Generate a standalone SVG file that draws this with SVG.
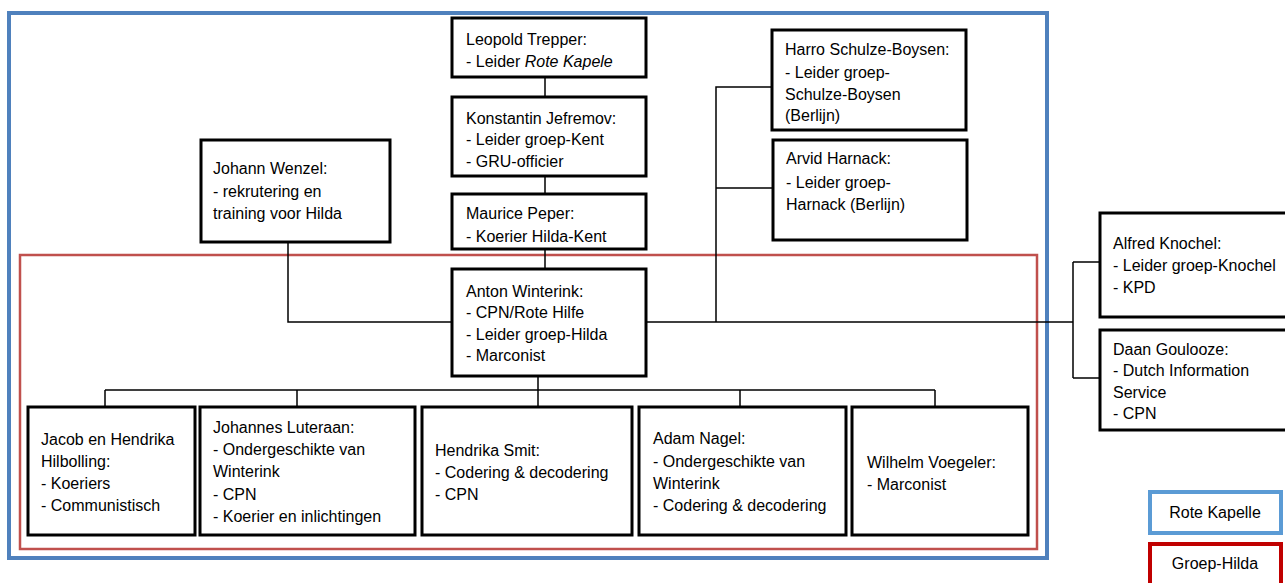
<svg xmlns="http://www.w3.org/2000/svg" width="1285" height="583" viewBox="0 0 1285 583">
<style>
text{font-family:"Liberation Sans",Arial,sans-serif;font-size:16px;fill:#000}
.box{fill:#fff;stroke:#000;stroke-width:3}
.con{fill:none;stroke:#000;stroke-width:1.5}
.legend{text-anchor:middle}
</style>
<rect width="1285" height="583" fill="#fff"/>
<g id="frames">
<rect x="9" y="13" width="1038" height="545" fill="none" stroke="#4F81BD" stroke-width="4"/>
<rect x="20" y="255" width="1017" height="294" fill="none" stroke="#C0504D" stroke-width="2.5"/>
</g>
<g id="connectors">
<path class="con" d="M545 77V97M545 176V194M545 249V269"/>
<path class="con" d="M288 242V322H452"/>
<path class="con" d="M646 322H1073M1073 262V378M1073 262H1100M1073 378H1100"/>
<path class="con" d="M716 322V87H772M716 188H773"/>
<path class="con" d="M538 376V390M105 390H935M105 390V407M297 390V407M538 390V407M740 390V407M935 390V407"/>
</g>
<g id="leopold">
<rect class="box" x="452" y="18" width="194" height="59"/>
<text x="466" y="45">Leopold Trepper:</text>
<text x="466" y="67">- Leider <tspan font-style="italic">Rote Kapele</tspan></text>
</g>
<g id="konstantin">
<rect class="box" x="452" y="97" width="194" height="79"/>
<text x="466" y="124">Konstantin Jefremov:</text>
<text x="466" y="145">- Leider groep-Kent</text>
<text x="466" y="167">- GRU-officier</text>
</g>
<g id="maurice">
<rect class="box" x="452" y="194" width="194" height="55"/>
<text x="466" y="219">Maurice Peper:</text>
<text x="466" y="242">- Koerier Hilda-Kent</text>
</g>
<g id="anton">
<rect class="box" x="452" y="269" width="194" height="107"/>
<text x="466" y="297">Anton Winterink:</text>
<text x="466" y="318">- CPN/Rote Hilfe</text>
<text x="466" y="340">- Leider groep-Hilda</text>
<text x="466" y="361">- Marconist</text>
</g>
<g id="johann">
<rect class="box" x="201" y="140" width="189" height="102"/>
<text x="213" y="174">Johann Wenzel:</text>
<text x="213" y="197">- rekrutering en</text>
<text x="213" y="219">training voor Hilda</text>
</g>
<g id="harro">
<rect class="box" x="772" y="30" width="194" height="100"/>
<text x="785" y="55">Harro Schulze-Boysen:</text>
<text x="785" y="78">- Leider groep-</text>
<text x="785" y="100">Schulze-Boysen</text>
<text x="785" y="121">(Berlijn)</text>
</g>
<g id="arvid">
<rect class="box" x="773" y="140" width="194" height="100"/>
<text x="786" y="164">Arvid Harnack:</text>
<text x="786" y="188">- Leider groep-</text>
<text x="786" y="210">Harnack (Berlijn)</text>
</g>
<g id="knochel">
<rect class="box" x="1100" y="213" width="195" height="104"/>
<text x="1113" y="249">Alfred Knochel:</text>
<text x="1113" y="271">- Leider groep-Knochel</text>
<text x="1113" y="293">- KPD</text>
</g>
<g id="goulooze">
<rect class="box" x="1100" y="330" width="195" height="100"/>
<text x="1113" y="355">Daan Goulooze:</text>
<text x="1113" y="376">- Dutch Information</text>
<text x="1113" y="398">Service</text>
<text x="1113" y="419">- CPN</text>
</g>
<g id="jacob">
<rect class="box" x="28" y="407" width="167" height="128"/>
<text x="41" y="445">Jacob en Hendrika</text>
<text x="41" y="467">Hilbolling:</text>
<text x="41" y="489">- Koeriers</text>
<text x="41" y="511">- Communistisch</text>
</g>
<g id="johannes">
<rect class="box" x="200" y="407" width="215" height="128"/>
<text x="213" y="433">Johannes Luteraan:</text>
<text x="213" y="455">- Ondergeschikte van</text>
<text x="213" y="477">Winterink</text>
<text x="213" y="500">- CPN</text>
<text x="213" y="522">- Koerier en inlichtingen</text>
</g>
<g id="hendrika">
<rect class="box" x="422" y="407" width="210" height="128"/>
<text x="435" y="456">Hendrika Smit:</text>
<text x="435" y="478">- Codering &amp; decodering</text>
<text x="435" y="500">- CPN</text>
</g>
<g id="adam">
<rect class="box" x="639" y="407" width="207" height="128"/>
<text x="653" y="444">Adam Nagel:</text>
<text x="653" y="467">- Ondergeschikte van</text>
<text x="653" y="489">Winterink</text>
<text x="653" y="511">- Codering &amp; decodering</text>
</g>
<g id="wilhelm">
<rect class="box" x="852" y="407" width="176" height="128"/>
<text x="867" y="468">Wilhelm Voegeler:</text>
<text x="867" y="490">- Marconist</text>
</g>
<g id="legend-rote">
<rect x="1150" y="492" width="131" height="41" fill="#fff" stroke="#5B9BD5" stroke-width="4"/>
<text class="legend" x="1215" y="518">Rote Kapelle</text>
</g>
<g id="legend-hilda">
<rect x="1150" y="544" width="131" height="41" fill="#fff" stroke="#C00000" stroke-width="4"/>
<text class="legend" x="1215" y="569">Groep-Hilda</text>
</g>
</svg>
